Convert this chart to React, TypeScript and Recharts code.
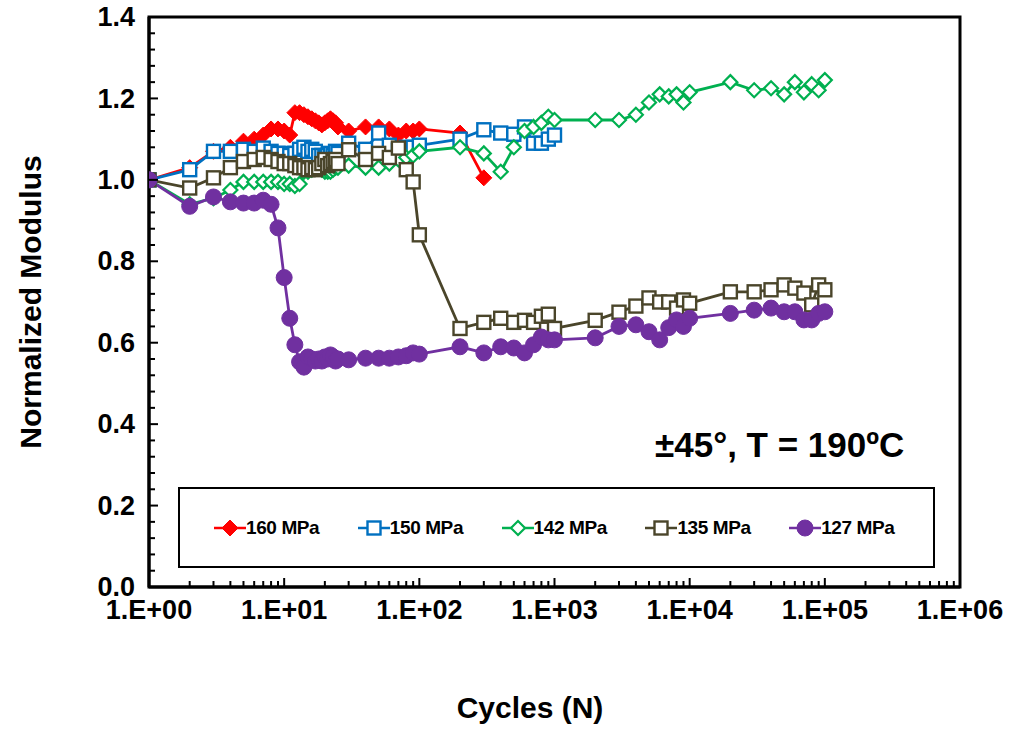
import { ComposedChart, Line, XAxis, YAxis, ReferenceArea, Legend } from 'recharts';

const FONT = "Arial, 'Liberation Sans', sans-serif";

// cycles (N) and normalized modulus per stress level
const cycles160 = [1, 2, 3, 4, 5, 6, 7, 8, 9, 10, 11, 12, 13, 14, 15, 16, 17, 18, 19, 20, 21, 22, 23, 24, 25, 30, 40, 50, 60, 70, 80, 90, 100, 200, 300];
const modulus160 = [1.0, 1.03, 1.07, 1.08, 1.095, 1.1, 1.11, 1.125, 1.125, 1.12, 1.11, 1.165, 1.165, 1.16, 1.155, 1.15, 1.145, 1.14, 1.135, 1.14, 1.145, 1.15, 1.145, 1.14, 1.13, 1.12, 1.13, 1.13, 1.125, 1.11, 1.12, 1.12, 1.125, 1.115, 1.005];

const cycles150 = [1, 2, 3, 4, 5, 6, 7, 8, 9, 10, 11, 12, 13, 14, 15, 16, 17, 18, 19, 20, 21, 22, 23, 24, 25, 30, 40, 50, 60, 70, 80, 90, 100, 200, 300, 400, 500, 600, 700, 800, 900, 1000];
const modulus150 = [1.0, 1.025, 1.07, 1.07, 1.075, 1.07, 1.078, 1.07, 1.065, 1.065, 1.06, 1.065, 1.075, 1.08, 1.07, 1.075, 1.07, 1.06, 1.06, 1.055, 1.06, 1.065, 1.06, 1.07, 1.065, 1.09, 1.075, 1.115, 1.085, 1.073, 1.08, 1.08, 1.085, 1.1, 1.123, 1.115, 1.112, 1.13, 1.09, 1.09, 1.1, 1.11];

const cycles142 = [1, 2, 3, 4, 5, 6, 7, 8, 9, 10, 11, 12, 13, 14, 15, 16, 17, 18, 19, 20, 21, 22, 23, 24, 25, 30, 40, 50, 60, 70, 80, 90, 100, 200, 300, 400, 500, 600, 700, 800, 900, 1000, 2000, 3000, 4000, 5000, 6000, 7000, 8000, 9000, 10000, 20000, 30000, 40000, 50000, 60000, 70000, 80000, 90000, 100000];
const modulus142 = [1.0, 0.94, 0.955, 0.975, 0.995, 0.995, 0.995, 0.995, 0.995, 0.99, 0.99, 0.985, 0.99, 1.02, 1.02, 1.025, 1.03, 1.03, 1.025, 1.02, 1.02, 1.02, 1.025, 1.03, 1.03, 1.035, 1.03, 1.03, 1.04, 1.05, 1.055, 1.06, 1.07, 1.08, 1.065, 1.02, 1.08, 1.12, 1.13, 1.14, 1.155, 1.147, 1.147, 1.147, 1.16, 1.19, 1.21, 1.205, 1.21, 1.19, 1.215, 1.24, 1.22, 1.225, 1.21, 1.24, 1.215, 1.235, 1.22, 1.245];

const cycles135 = [1, 2, 3, 4, 5, 6, 7, 8, 9, 10, 11, 12, 13, 14, 15, 16, 17, 18, 19, 20, 21, 22, 23, 24, 25, 30, 40, 50, 60, 70, 80, 90, 100, 200, 300, 400, 500, 600, 700, 800, 900, 1000, 2000, 3000, 4000, 5000, 6000, 7000, 8000, 9000, 10000, 20000, 30000, 40000, 50000, 60000, 70000, 80000, 90000, 100000];
const modulus135 = [1.0, 0.98, 1.005, 1.03, 1.045, 1.05, 1.055, 1.05, 1.045, 1.04, 1.04, 1.035, 1.03, 1.03, 1.025, 1.03, 1.025, 1.03, 1.04, 1.05, 1.035, 1.04, 1.045, 1.05, 1.04, 1.074, 1.05, 1.065, 1.055, 1.078, 1.025, 0.995, 0.865, 0.635, 0.65, 0.66, 0.65, 0.655, 0.65, 0.665, 0.67, 0.635, 0.655, 0.675, 0.69, 0.71, 0.7, 0.7, 0.685, 0.705, 0.697, 0.725, 0.725, 0.73, 0.742, 0.734, 0.722, 0.693, 0.742, 0.73];

const cycles127 = [1, 2, 3, 4, 5, 6, 7, 8, 9, 10, 11, 12, 13, 14, 15, 16, 17, 18, 19, 20, 21, 22, 23, 24, 25, 30, 40, 50, 60, 70, 80, 90, 100, 200, 300, 400, 500, 600, 700, 800, 900, 1000, 2000, 3000, 4000, 5000, 6000, 7000, 8000, 9000, 10000, 20000, 30000, 40000, 50000, 60000, 70000, 80000, 90000, 100000];
const modulus127 = [1.0, 0.935, 0.958, 0.946, 0.943, 0.943, 0.95, 0.94, 0.882, 0.76, 0.66, 0.595, 0.553, 0.54, 0.565, 0.56, 0.555, 0.56, 0.555, 0.565, 0.56, 0.57, 0.565, 0.555, 0.56, 0.558, 0.562, 0.562, 0.562, 0.565, 0.568, 0.575, 0.572, 0.59, 0.575, 0.59, 0.587, 0.575, 0.595, 0.614, 0.607, 0.607, 0.612, 0.64, 0.644, 0.627, 0.607, 0.637, 0.656, 0.64, 0.66, 0.672, 0.68, 0.685, 0.676, 0.676, 0.656, 0.656, 0.672, 0.676];

const xMajorTicks = [1, 10, 100, 1000, 10000, 100000, 1000000];
const xTickLabels = ['1.E+00', '1.E+01', '1.E+02', '1.E+03', '1.E+04', '1.E+05', '1.E+06'];
const yMajorTicks = [0, 0.2, 0.4, 0.6, 0.8, 1.0, 1.2, 1.4];
const yTickLabels = ['0.0', '0.2', '0.4', '0.6', '0.8', '1.0', '1.2', '1.4'];

const toRows = (c: number[], m: number[]) => c.map((n, i) => ({ n, v: m[i] }));

// minor ticks: 2..9 per decade on x, 0.04 steps on y
const xAllTicks: number[] = [];
xMajorTicks.slice(0, -1).forEach((d) => {
  for (let k = 1; k < 10; k++) xAllTicks.push(d * k);
});
xAllTicks.push(1000000);
const yAllTicks: number[] = [];
for (let i = 0; i <= 35; i++) yAllTicks.push(Math.round(i * 4) / 100);

const diamond = (cx: number, cy: number, r: number) =>
  `M${cx},${cy - r}L${cx + r},${cy}L${cx},${cy + r}L${cx - r},${cy}Z`;

const Marker = ({ kind, cx, cy, color }: any) => {
  if (kind === 'fdiamond') return <path d={diamond(cx, cy, 8)} fill={color} stroke={color} strokeWidth={1} />;
  if (kind === 'odiamond') return <path d={diamond(cx, cy, 7)} fill="#fff" stroke={color} strokeWidth={2.2} />;
  if (kind === 'square') return <rect x={cx - 6.5} y={cy - 6.5} width={13} height={13} fill="#fff" stroke={color} strokeWidth={2.4} />;
  return <circle cx={cx} cy={cy} r={8} fill={color} stroke={color} />;
};

const series = [
  { name: '160 MPa', color: '#FF0000', kind: 'fdiamond', data: toRows(cycles160, modulus160) },
  { name: '150 MPa', color: '#0070C0', kind: 'square', data: toRows(cycles150, modulus150) },
  { name: '142 MPa', color: '#00B050', kind: 'odiamond', data: toRows(cycles142, modulus142) },
  { name: '135 MPa', color: '#4A452A', kind: 'square', data: toRows(cycles135, modulus135) },
  { name: '127 MPa', color: '#7030A0', kind: 'circle', data: toRows(cycles127, modulus127) },
];

const XTick = (props: any) => {
  const { x, y, payload } = props;
  const idx = xMajorTicks.indexOf(payload.value);
  const major = idx >= 0;
  return (
    <g>
      <line x1={x} x2={x} y1={y} y2={y - (major ? 9 : 6)} stroke="#000" strokeWidth={2} />
      {major && (
        <text x={x} y={y + 32} textAnchor="middle" fontFamily={FONT} fontWeight="bold" fontSize={27} fill="#000">
          {xTickLabels[idx]}
        </text>
      )}
    </g>
  );
};

const YTick = (props: any) => {
  const { x, y, payload } = props;
  const idx = yMajorTicks.findIndex((t) => Math.abs(t - payload.value) < 1e-6);
  const major = idx >= 0;
  return (
    <g>
      <line x1={x} x2={x + (major ? 9 : 6)} y1={y} y2={y} stroke="#000" strokeWidth={2} />
      {major && (
        <text x={x - 14} y={y} dy="0.34em" textAnchor="end" fontFamily={FONT} fontWeight="bold" fontSize={27} fill="#000">
          {yTickLabels[idx]}
        </text>
      )}
    </g>
  );
};

const LegendBox = () => (
  <div
    style={{
      width: 757,
      height: 81,
      boxSizing: 'border-box',
      border: '2px solid #000',
      background: '#fff',
      display: 'flex',
      alignItems: 'center',
      paddingLeft: 34,
      fontFamily: FONT,
      fontWeight: 'bold',
      fontSize: 19,
    }}
  >
    {series.map((s) => (
      <div key={s.name} style={{ width: 145.5, display: 'flex', alignItems: 'center' }}>
        <svg width={32} height={18}>
          <line x1={0} x2={32} y1={9} y2={9} stroke={s.color} strokeWidth={2.5} />
          <Marker kind={s.kind} cx={16} cy={9} color={s.color} />
        </svg>
        <span style={{ letterSpacing: -0.4 }}>{s.name}</span>
      </div>
    ))}
  </div>
);

export default function App() {
  return (
    <div style={{ position: 'absolute', left: 0, top: 0, width: 1013, height: 731, background: '#fff' }}>
      <ComposedChart width={1013} height={731} margin={{ top: 17, right: 53, bottom: 84, left: 0 }}>
        <XAxis
          dataKey="n"
          type="number"
          scale="log"
          domain={[1, 1000000]}
          ticks={xAllTicks}
          interval={0}
          allowDataOverflow
          height={60}
          tickSize={0}
          tickMargin={0}
          tickLine={false}
          axisLine={{ stroke: '#000', strokeWidth: 3 }}
          tick={<XTick />}
        />
        <YAxis
          type="number"
          domain={[0, 1.4]}
          ticks={yAllTicks}
          interval={0}
          allowDataOverflow
          width={149}
          tickSize={0}
          tickMargin={0}
          tickLine={false}
          axisLine={{ stroke: '#000', strokeWidth: 3 }}
          tick={<YTick />}
        />
        <ReferenceArea x1={1} x2={1000000} y1={0} y2={1.4} fill="none" stroke="#000" strokeWidth={3} />
        {series.map((s) => (
          <Line
            key={s.name}
            data={s.data}
            dataKey="v"
            name={s.name}
            stroke={s.color}
            strokeWidth={2.8}
            isAnimationActive={false}
            dot={(p: any) => <Marker key={`${s.name}-${p.index}`} kind={s.kind} cx={p.cx} cy={p.cy} color={s.color} />}
            activeDot={false}
          />
        ))}
        <Legend
          layout="horizontal"
          verticalAlign="middle"
          align="center"
          content={<LegendBox />}
          wrapperStyle={{ position: 'absolute', left: 178, top: 487, width: 757, height: 81 }}
        />
      </ComposedChart>
      <svg width={1013} height={731} style={{ position: 'absolute', left: 0, top: 0, pointerEvents: 'none' }}>
        <text x={41} y={302} transform="rotate(-90 41 302)" textAnchor="middle" fontFamily={FONT} fontWeight="bold" fontSize={30}>
          Normalized Modulus
        </text>
        <text x={530} y={718} textAnchor="middle" fontFamily={FONT} fontWeight="bold" fontSize={30}>
          Cycles (N)
        </text>
        <text x={655} y={457} fontFamily={FONT} fontWeight="bold" fontSize={35}>
          ±45°, T = 190ºC
        </text>
      </svg>
    </div>
  );
}
